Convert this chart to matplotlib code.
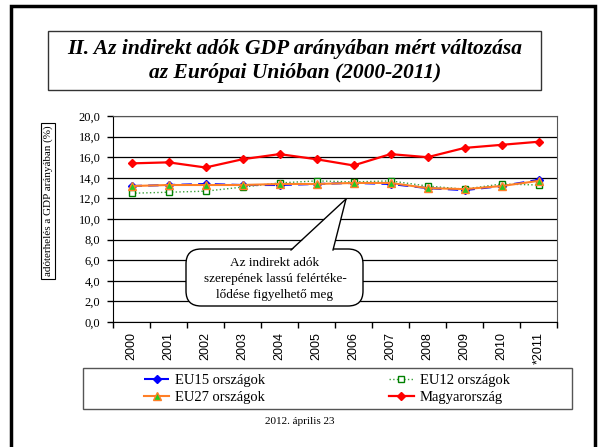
import matplotlib.pyplot as plt
import matplotlib.patches as mpatches
from matplotlib.lines import Line2D
import numpy as np

# adatok
years = ['2000', '2001', '2002', '2003', '2004', '2005', '2006',
         '2007', '2008', '2009', '2010', '*2011']
eu15 = [13.2, 13.3, 13.4, 13.3, 13.3, 13.4, 13.5, 13.4, 13.0, 12.8, 13.2, 13.8]
eu12 = [12.5, 12.6, 12.7, 13.1, 13.5, 13.7, 13.6, 13.7, 13.2, 12.9, 13.4, 13.3]
eu27 = [13.2, 13.3, 13.3, 13.3, 13.4, 13.4, 13.5, 13.5, 13.0, 12.9, 13.2, 13.7]
hun = [15.4, 15.5, 15.0, 15.8, 16.3, 15.8, 15.2, 16.3, 16.0, 16.9, 17.2, 17.5]
yticks = [0, 2, 4, 6, 8, 10, 12, 14, 16, 18, 20]

W, H = 600, 447
serif = ['Liberation Serif', 'DejaVu Serif']
sans = ['Liberation Sans', 'DejaVu Sans']


def px(x, y):
    return x / W, 1 - y / H


fig = plt.figure(figsize=(6, 4.47), dpi=100)

# külső keret
fig.patches.append(mpatches.Rectangle(px(11, 460), 584 / W, 454 / H, fill=False,
                                      lw=2.5, ec='black', transform=fig.transFigure))

# cím dobozban
fig.patches.append(mpatches.Rectangle(px(48, 90), 493 / W, 59 / H, fill=False,
                                      lw=1, ec='#333333', transform=fig.transFigure))
fig.text(*px(295, 61), 'II. Az indirekt adók GDP arányában mért változása\naz Európai Unióban (2000-2011)',
         ha='center', va='center', fontsize=15.5, family=serif, style='italic',
         weight='bold', linespacing=1.25)

# diagram
ax = fig.add_axes([113 / W, 125 / H, 444 / W, 206 / H])
x = np.arange(len(years))
ax.plot(x, eu15, color='blue', ls=(0, (5, 3)), lw=1.5, marker='D', ms=4,
        mfc='blue', mec='blue', label='EU15 országok', zorder=3)
ax.plot(x, eu12, color='#3aa03a', ls=':', lw=1, marker='s', ms=5,
        mfc='white', mec='green', label='EU12 országok', zorder=4)
ax.plot(x, eu27, color='#ff7f27', ls='-', lw=1.5, marker='^', ms=6,
        mfc='#22cc22', mec='#ff7f27', label='EU27 országok', zorder=5)
ax.plot(x, hun, color='red', ls='-', lw=1.6, marker='D', ms=4.5,
        mfc='red', mec='red', label='Magyarország', zorder=6)

ax.set_xlim(-0.5, len(years) - 0.5)
ax.set_ylim(0, 20)
ax.set_yticks(yticks)
ax.set_yticklabels([f'{v:.1f}'.replace('.', ',') for v in yticks],
                   family=serif, fontsize=9)
ax.yaxis.grid(True, color='black', lw=0.9)
ax.set_axisbelow(True)
ax.set_xticks(x)
ax.set_xticklabels(years, rotation=90, family=sans, fontsize=9)
ax.set_xticks(np.arange(-0.5, len(years)), minor=True)
ax.tick_params(axis='x', which='major', length=0, pad=7)
ax.tick_params(axis='x', which='minor', length=4, width=1)
ax.tick_params(axis='y', length=4, width=1, pad=5)
for s in ['left', 'bottom']:
    ax.spines[s].set_color('black')
for s in ['top', 'right']:
    ax.spines[s].set_color('#555555')

# y tengely felirat dobozban
fig.text(*px(48, 201), 'adóterhelés a GDP arányában (%)', rotation=90,
         ha='center', va='center', fontsize=8, family=serif,
         bbox=dict(boxstyle='square,pad=0.2', fc='white', ec='black', lw=0.8))

# szövegbuborék
bub = mpatches.FancyBboxPatch(px(192, 300), 165 / W, 45 / H,
                              boxstyle='round,pad=0.01,rounding_size=0.025',
                              fc='white', ec='black', lw=1, transform=fig.transFigure,
                              mutation_aspect=W / H, zorder=10)
fig.patches.append(bub)
tri = mpatches.Polygon([px(291, 251), px(346, 199), px(333, 251)], closed=True,
                       fc='white', ec='none', transform=fig.transFigure, zorder=11)
fig.patches.append(tri)
for p in [(291, 250), (333, 250)]:
    fig.lines.append(Line2D([p[0] / W, 346 / W], [1 - p[1] / H, 1 - 199 / H],
                            color='black', lw=1, transform=fig.transFigure, zorder=12))
fig.text(*px(275, 279), 'Az indirekt adók\nszerepének lassú felértéke-\nlődése figyelhető meg',
         ha='center', va='center', fontsize=9.5, family=serif, linespacing=1.4,
         zorder=13)

# jelmagyarázat
fig.patches.append(mpatches.Rectangle(px(83, 409), 489 / W, 41 / H, fill=False,
                                      lw=1, ec='#555555', transform=fig.transFigure))
handles, labels = ax.get_legend_handles_labels()
order = [0, 2, 1, 3]
fig.legend([handles[i] for i in order], [labels[i] for i in order],
           loc='center', bbox_to_anchor=px(327, 389), ncol=2, frameon=False,
           prop={'family': serif, 'size': 10.5}, handlelength=1.7,
           columnspacing=8.5, handletextpad=0.4, labelspacing=0.25,
           borderpad=0)

fig.text(*px(300, 421), '2012. április 23', ha='center', va='center',
         fontsize=8, family=serif)

fig.savefig('out.png', dpi=100)
